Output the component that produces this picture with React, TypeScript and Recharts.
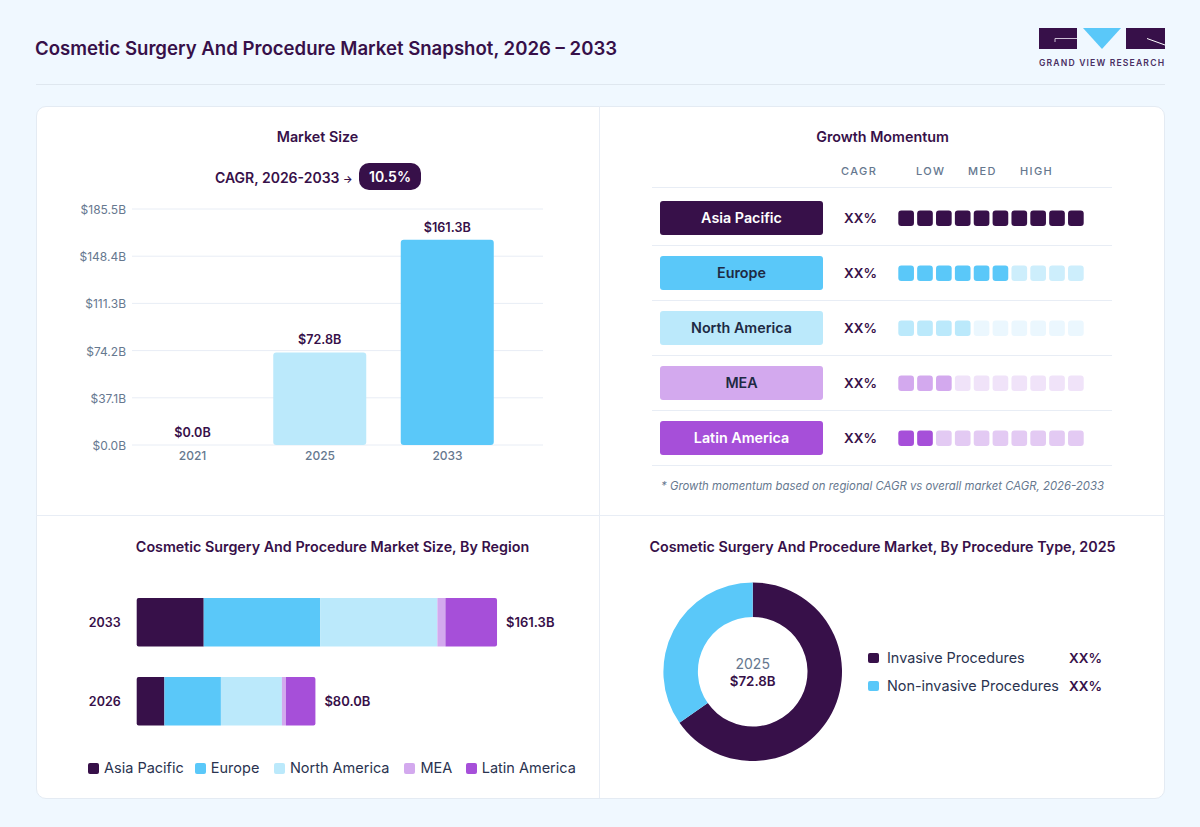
import React from "react";
import { BarChart, Bar, XAxis, YAxis, CartesianGrid, Cell, LabelList, PieChart, Pie, Legend, ReferenceDot } from "recharts";

const DARK = "#371049";
const SKY = "#5ac8f9";
const PALE = "#bbe9fb";
const LILAC = "#d3a9ee";
const PURPLE = "#a64fd9";
const MUTED = "#66788f";
const LINE = "#e8edf5";
const FONT = "Inter, sans-serif";

const marketYears = ["2021", "2025", "2033"];
const marketValues = [0, 72.8, 161.3];
const marketColors = [PALE, PALE, SKY];
const marketTicks = [0, 37.1, 74.2, 111.3, 148.4, 185.5];

const regions = ["Asia Pacific", "Europe", "North America", "MEA", "Latin America"];
const regionColors = [DARK, SKY, PALE, LILAC, PURPLE];
const regionTextColors = ["#ffffff", "#1e2a44", "#1e2a44", "#1e2a44", "#ffffff"];
const regionDimColors = [DARK, "#cdeefc", "#ebf7fe", "#f0e3f9", "#e3caf3"];
const momentumLevels = [10, 6, 4, 3, 2];
const cagrLabels = ["XX%", "XX%", "XX%", "XX%", "XX%"];
const momentumUnits = ["u1", "u2", "u3", "u4", "u5", "u6", "u7", "u8", "u9", "u10"];

const stackYears = ["2033", "2026"];
const stackTotals = [161.3, 80.0];
const asiaPacific = [30.0, 12.4];
const europe = [52.1, 25.3];
const northAmerica = [52.5, 27.3];
const mea = [3.6, 1.8];
const latinAmerica = [23.1, 13.2];
const regionSeries = [asiaPacific, europe, northAmerica, mea, latinAmerica];

const procedures = ["Invasive Procedures", "Non-invasive Procedures"];
const procedureShares = [65.3, 34.7];
const procedureColors = [DARK, SKY];
const procedureLabels = ["XX%", "XX%"];

const money = (v: number) => `$${Number(v).toFixed(1)}B`;

const marketData = marketYears.map((year, i) => ({ year, value: marketValues[i] }));
const momentumData = regions.map((region, i) => {
  const row: Record<string, any> = { region, level: momentumLevels[i], idx: i };
  momentumUnits.forEach((u) => (row[u] = 1));
  return row;
});
const stackData = stackYears.map((year, i) => {
  const row: Record<string, any> = { year, total: stackTotals[i] };
  regions.forEach((r, k) => (row[r] = regionSeries[k][i]));
  return row;
});
const procedureData = procedures.map((name, i) => ({ name, value: procedureShares[i] }));

const Abs = ({ x, y, w, h, style, children }: any) => (
  <div style={{ position: "absolute", left: x, top: y, width: w, height: h, boxSizing: "border-box", ...style }}>{children}</div>
);

const Heading = ({ x, w, y, children }: any) => (
  <div style={{ position: "absolute", left: x, top: y, width: w, textAlign: "center", fontSize: 14.3, fontWeight: 600, color: DARK, lineHeight: "20px", whiteSpace: "nowrap" }}>{children}</div>
);

const RegionTick = ({ y, payload }: any) => {
  const i = regions.indexOf(payload.value);
  return (
    <g>
      <rect x={8} y={y - 17} width={163} height={34} rx={3} fill={regionColors[i]} />
      <text x={89.5} y={y + 5} textAnchor="middle" fontSize={14.3} fontWeight={600} fill={regionTextColors[i]} fontFamily={FONT}>{payload.value}</text>
      <text x={208.5} y={y + 5} textAnchor="middle" fontSize={13.5} fontWeight={600} fill={DARK} fontFamily={FONT}>{cagrLabels[i]}</text>
      <line x1={0} x2={460} y1={y + 27.5} y2={y + 27.5} stroke={LINE} />
    </g>
  );
};

const unitShape = (unitIndex: number) => (props: any) => {
  const { x, y, width, height, payload } = props;
  const filled = unitIndex < payload.level;
  return (
    <rect x={x + 1.6} y={y} width={width - 3.2} height={height} rx={3} fill={filled ? regionColors[payload.idx] : regionDimColors[payload.idx]} />
  );
};

const legendItemWidths = [106.8, 79.1, 130.5, 61.5, 110];
const StackLegend = () => (
  <div style={{ display: "flex", fontFamily: FONT, fontSize: 14.5, color: "#2a3350", whiteSpace: "nowrap", lineHeight: "18px" }}>
    {regions.map((r, i) => (
      <span key={r} style={{ display: "inline-flex", alignItems: "center", width: legendItemWidths[i] }}>
        <span style={{ width: 11, height: 11, borderRadius: 2, background: regionColors[i], marginRight: 5 }} />
        {r}
      </span>
    ))}
  </div>
);

const labelStyle = { fontSize: 12.6, fontWeight: 600, fill: DARK, fontFamily: FONT };

const Logo = () => (
  <svg width={130} height={42} style={{ position: "absolute", left: 1037, top: 26 }}>
    <rect x={2} y={2} width={38} height={21} fill={DARK} />
    <path d="M18 12.5H40M18 12.5V16" stroke="#cdbfd6" strokeWidth={1} fill="none" />
    <polygon points="46,2 84,2 65,23" fill={SKY} />
    <rect x={89} y={2} width={39} height={21} fill={DARK} />
    <path d="M110 12.5L128 19" stroke="#ffffff" strokeWidth={1} fill="none" />
    <text x={2} y={39.5} fontSize={8.6} fontWeight={600} letterSpacing={1.16} fill="#4a2f63" fontFamily={FONT}>GRAND VIEW RESEARCH</text>
  </svg>
);

export default function App() {
  return (
    <div style={{ position: "absolute", left: 0, top: 0, width: 1200, height: 827, background: "#f0f8ff", fontFamily: FONT, overflow: "hidden" }}>
      <div style={{ position: "absolute", left: 35, top: 35, fontSize: 18.6, fontWeight: 600, color: DARK, lineHeight: "26px", whiteSpace: "nowrap" }}>
        Cosmetic Surgery And Procedure Market Snapshot, 2026 – 2033
      </div>
      <Logo />
      <Abs x={36} y={84} w={1129} h={1} style={{ background: "#dfe7ef" }} />
      <Abs x={35.5} y={105.5} w={1129.5} h={693} style={{ background: "#fff", border: "1px solid #e4ebf3", borderRadius: 10 }} />
      <Abs x={599} y={106} w={1} h={692} style={{ background: LINE }} />
      <Abs x={36} y={515} w={1129} h={1} style={{ background: LINE }} />

      <Heading x={36} w={563} y={127}>Market Size</Heading>
      <div style={{ position: "absolute", left: 215, top: 168, fontSize: 14, fontWeight: 600, color: DARK, lineHeight: "20px", whiteSpace: "nowrap" }}>
        CAGR, 2026-2033 <span style={{ fontSize: 10 }}>→</span>
      </div>
      <div style={{ position: "absolute", left: 359, top: 163, width: 62, height: 27, borderRadius: 10, background: DARK, color: "#fff", textAlign: "center", fontSize: 14, fontWeight: 600, lineHeight: "27px" }}>10.5%</div>

      <div style={{ position: "absolute", left: 66, top: 199 }}>
        <BarChart width={490} height={276} data={marketData} margin={{ top: 10, right: 13, bottom: 0, left: 0 }}>
          <CartesianGrid vertical={false} stroke={LINE} />
          <XAxis dataKey="year" scale="point" padding={{ left: 60.5, right: 95.5 }} axisLine={false} tickLine={false} tick={{ fontSize: 12, fill: MUTED, fontFamily: FONT, fontWeight: 500 }} tickMargin={0} height={30} />
          <YAxis width={66} type="number" domain={[0, 185.5]} ticks={marketTicks} tickFormatter={money} axisLine={false} tickLine={false} tick={{ fontSize: 12, fill: MUTED, fontFamily: FONT, dy: 0.7 }} tickMargin={0} interval={0} />
          <Bar dataKey="value" barSize={93} radius={3} isAnimationActive={false}>
            {marketData.map((d, i) => <Cell key={d.year} fill={marketColors[i]} />)}
            <LabelList dataKey="value" position="top" offset={8} formatter={money} style={labelStyle} />
          </Bar>
          <ReferenceDot x={marketYears[0]} y={marketValues[0]} r={0} fill="none" stroke="none" label={{ value: money(marketValues[0]), position: "top", offset: 8, style: labelStyle }} />
        </BarChart>
      </div>

      <Heading x={600} w={565} y={127}>Growth Momentum</Heading>
      {[["CAGR", 841], ["LOW", 916], ["MED", 968], ["HIGH", 1020]].map(([t, x]) => (
        <div key={t as string} style={{ position: "absolute", left: x as number, top: 164, fontSize: 11, fontWeight: 500, letterSpacing: 1.4, color: MUTED, lineHeight: "14px" }}>{t}</div>
      ))}
      <Abs x={652} y={187} w={460} h={1} style={{ background: LINE }} />
      <div style={{ position: "absolute", left: 652, top: 190 }}>
        <BarChart width={460} height={276} data={momentumData} layout="vertical" margin={{ top: 0.5, right: 26.7, bottom: 0.5, left: 0 }} barSize={15.6}>
          <XAxis type="number" domain={[0, 10]} hide />
          <YAxis type="category" dataKey="region" width={244.7} axisLine={false} tickLine={false} tick={<RegionTick />} interval={0} />
          {momentumUnits.map((u, i) => (
            <Bar key={u} dataKey={u} stackId="m" isAnimationActive={false} shape={unitShape(i)} />
          ))}
        </BarChart>
      </div>
      <div style={{ position: "absolute", left: 600, width: 565, top: 478, textAlign: "center", fontSize: 11.35, fontStyle: "italic", color: MUTED, lineHeight: "16px", whiteSpace: "nowrap" }}>
        * Growth momentum based on regional CAGR vs overall market CAGR, 2026-2033
      </div>

      <Heading x={36} w={593} y={537}>Cosmetic Surgery And Procedure Market Size, By Region</Heading>
      <div style={{ position: "absolute", left: 66, top: 583 }}>
        <BarChart width={520} height={200} data={stackData} layout="vertical" margin={{ top: 0, right: 30, bottom: 24, left: 0 }} barSize={48.5}>
          <XAxis type="number" domain={[0, 187.7]} hide />
          <YAxis type="category" dataKey="year" width={70.7} axisLine={false} tickLine={false} tick={{ fontSize: 12.5, fontWeight: 600, fill: DARK, fontFamily: FONT }} tickMargin={10} />
          {regions.map((r, i) => (
            <Bar key={r} dataKey={r} stackId="s" fill={regionColors[i]} isAnimationActive={false} radius={i === 0 ? [2, 0, 0, 2] : i === regions.length - 1 ? [0, 2, 2, 0] : 0}>
              {i === regions.length - 1 && (
                <LabelList dataKey="total" position="right" offset={9} formatter={money} style={{ fontSize: 13, fontWeight: 600, fill: DARK, fontFamily: FONT }} />
              )}
            </Bar>
          ))}
          <Legend content={<StackLegend />} wrapperStyle={{ left: 22, bottom: 6, width: 500 }} />
        </BarChart>
      </div>

      <Heading x={600} w={565} y={537}>Cosmetic Surgery And Procedure Market, By Procedure Type, 2025</Heading>
      <div style={{ position: "absolute", left: 652, top: 572 }}>
        <PieChart width={200} height={200} margin={{ top: 0, right: 0, bottom: 0, left: 0 }}>
          <Pie data={procedureData} dataKey="value" nameKey="name" cx={100.7} cy={99.7} innerRadius={54.8} outerRadius={89.3} startAngle={90} endAngle={-270} stroke="none" isAnimationActive={false}>
            {procedureData.map((d, i) => <Cell key={d.name} fill={procedureColors[i]} />)}
          </Pie>
        </PieChart>
      </div>
      <div style={{ position: "absolute", left: 692.7, width: 120, top: 655, textAlign: "center", fontSize: 14, color: MUTED, lineHeight: "18px" }}>2025</div>
      <div style={{ position: "absolute", left: 692.7, width: 120, top: 672, textAlign: "center", fontSize: 13.3, fontWeight: 600, color: DARK, lineHeight: "18px" }}>$72.8B</div>
      {procedures.map((p, i) => (
        <React.Fragment key={p}>
          <div style={{ position: "absolute", left: 868, top: 652.5 + i * 28, width: 10.5, height: 10.5, borderRadius: 2, background: procedureColors[i] }} />
          <div style={{ position: "absolute", left: 887, top: 648 + i * 28, fontSize: 14.4, color: "#2a3350", lineHeight: "20px", whiteSpace: "nowrap" }}>{p}</div>
          <div style={{ position: "absolute", left: 1069, top: 648 + i * 28, fontSize: 13.5, fontWeight: 600, color: DARK, lineHeight: "20px" }}>{procedureLabels[i]}</div>
        </React.Fragment>
      ))}
    </div>
  );
}
